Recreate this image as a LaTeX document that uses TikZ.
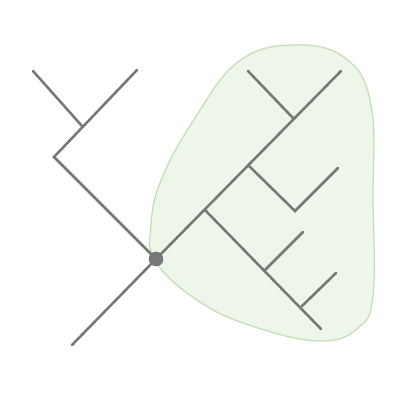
\documentclass[tikz,border=0pt]{standalone}
\definecolor{branch}{HTML}{777777}
\definecolor{blobfill}{HTML}{EDF6E8}
\definecolor{blobline}{HTML}{C3DFB6}
\begin{document}
\begin{tikzpicture}[x=0.025cm,y=-0.025cm,
  edge/.style={draw=branch,line width=1.8pt,line cap=round},
  dotnode/.style={circle,fill=branch,inner sep=0pt,minimum size=0.36cm}]
\useasboundingbox (0,0) rectangle (400,400);
% blob
\draw[blobline,fill=blobfill,line width=0.9pt] plot[smooth cycle,tension=0.7] coordinates
 {(156,262) (200,302) (255,327) (320,341) (358,328) (373,295) (373,200) (371,105) (345,58) (292,45) (238,62) (195,118) (162,178) (151,225)};
% coordinates
\coordinate (root) at (72,345);
\coordinate (L) at (54,157);
\coordinate (La) at (137,70);
\coordinate (Lb) at (82,126);
\coordinate (Lc) at (33,71);
\coordinate (R) at (341,71);
\coordinate (Ra) at (293,118);
\coordinate (Rb) at (248,71);
\coordinate (Sa) at (248,165);
\coordinate (Sb) at (295,211);
\coordinate (Sc) at (338,168);
\coordinate (Ta) at (205,210);
\coordinate (Tb) at (321,329);
\coordinate (Tc) at (265,270);
\coordinate (Td) at (303,232);
\coordinate (Te) at (302,306);
\coordinate (Tf) at (336,273);
\node[dotnode] (d) at (156,259) {};
% branches
\draw[edge] (root) -- (d.center) -- (L) -- (La);
\draw[edge] (Lb) -- (Lc);
\draw[edge] (d.center) -- (R);
\draw[edge] (Ra) -- (Rb);
\draw[edge] (Sa) -- (Sb) -- (Sc);
\draw[edge] (Ta) -- (Tb);
\draw[edge] (Tc) -- (Td);
\draw[edge] (Te) -- (Tf);
\fill[branch] (d) circle (0.18cm);
\end{tikzpicture}
\end{document}
